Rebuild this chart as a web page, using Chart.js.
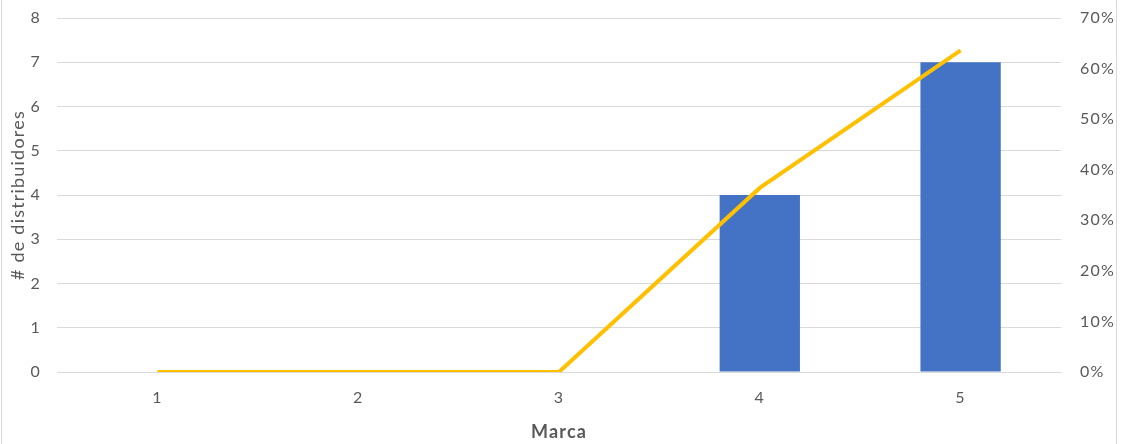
<!DOCTYPE html>
<html>
<head>
<meta charset="utf-8">
<script src="https://cdn.jsdelivr.net/npm/chart.js@4"></script>
<style>
  html, body { margin: 0; padding: 0; background: #fff; }
  #wrap { width: 1121px; height: 444px; position: relative; }
</style>
</head>
<body>
<div id="wrap"><canvas id="c" width="1121" height="444"></canvas></div>
<script>
// Brands and the number of distributors per brand
const marcas = ['1', '2', '3', '4', '5'];
const distribuidores = [0, 0, 0, 4, 7];
// Cumulative share line (%)
const porcentaje = [0, 0, 0, 36.4, 63.6];

const leftTicks = [0, 1, 2, 3, 4, 5, 6, 7, 8];
const rightTicks = [0, 10, 20, 30, 40, 50, 60, 70];

const textColor = '#595959';
const gridColor = '#d9d9d9';
const fontFamily = 'Lato, "Open Sans", "Liberation Sans", sans-serif';
const spacing = '1.2px';

// White background, slightly tracked text, light frame on left/right edges
const framePlugin = {
  id: 'frame',
  beforeLayout(chart) { chart.ctx.letterSpacing = spacing; },
  beforeDraw(chart) {
    const ctx = chart.ctx;
    ctx.letterSpacing = spacing;
    ctx.save();
    ctx.fillStyle = '#ffffff';
    ctx.fillRect(0, 0, chart.width, chart.height);
    ctx.strokeStyle = gridColor;
    ctx.lineWidth = 1;
    ctx.beginPath();
    ctx.moveTo(1.5, 0); ctx.lineTo(1.5, chart.height);
    ctx.moveTo(1116.5, 0); ctx.lineTo(1116.5, chart.height);
    ctx.stroke();
    ctx.restore();
  }
};

// Keep tick-label padding from pushing the plot area down
function fixVertical(width) {
  return s => { s.width = width; s.paddingTop = 0; s.paddingBottom = 0; };
}

new Chart(document.getElementById('c'), {
  data: {
    labels: marcas,
    datasets: [
      {
        type: 'line',
        data: porcentaje,
        yAxisID: 'y1',
        borderColor: '#FFC000',
        borderWidth: 4,
        pointRadius: 0,
        tension: 0,
        order: 0
      },
      {
        type: 'bar',
        data: distribuidores,
        yAxisID: 'y',
        backgroundColor: '#4472C4',
        barPercentage: 0.4,
        categoryPercentage: 1,
        order: 1
      }
    ]
  },
  options: {
    responsive: false,
    animation: false,
    layout: { padding: { top: 18, left: 0, right: 0, bottom: 0 } },
    plugins: { legend: { display: false }, tooltip: { enabled: false } },
    scales: {
      x: {
        grid: { display: false, drawTicks: false },
        border: { display: false },
        ticks: { color: textColor, font: { family: fontFamily, size: 16 }, padding: 16 },
        title: {
          display: true, text: 'Marca', color: textColor,
          font: { family: fontFamily, size: 18, weight: 'bold' },
          padding: { top: 0, bottom: 1 }
        },
        afterFit(s) { s.height = 72; s.paddingLeft = 0; s.paddingRight = 0; }
      },
      y: {
        position: 'left',
        min: 0, max: 8,
        afterBuildTicks(s) { s.ticks = leftTicks.map(v => ({ value: v })); },
        grid: { color: gridColor, lineWidth: 1, drawTicks: false },
        border: { display: false },
        ticks: { color: textColor, font: { family: fontFamily, size: 16 }, padding: 16 },
        title: {
          display: true, text: '# de distribuidores', color: textColor,
          font: { family: fontFamily, size: 18 },
          padding: { top: 7, bottom: 0 }
        },
        afterFit: fixVertical(57)
      },
      y1: {
        position: 'right',
        min: 0, max: 70,
        afterBuildTicks(s) { s.ticks = rightTicks.map(v => ({ value: v })); },
        grid: { display: false, drawTicks: false },
        border: { display: false },
        ticks: {
          color: textColor, font: { family: fontFamily, size: 16 }, padding: 19,
          callback: v => v + '%'
        },
        afterFit: fixVertical(60)
      }
    }
  },
  plugins: [framePlugin]
});
</script>
</body>
</html>
